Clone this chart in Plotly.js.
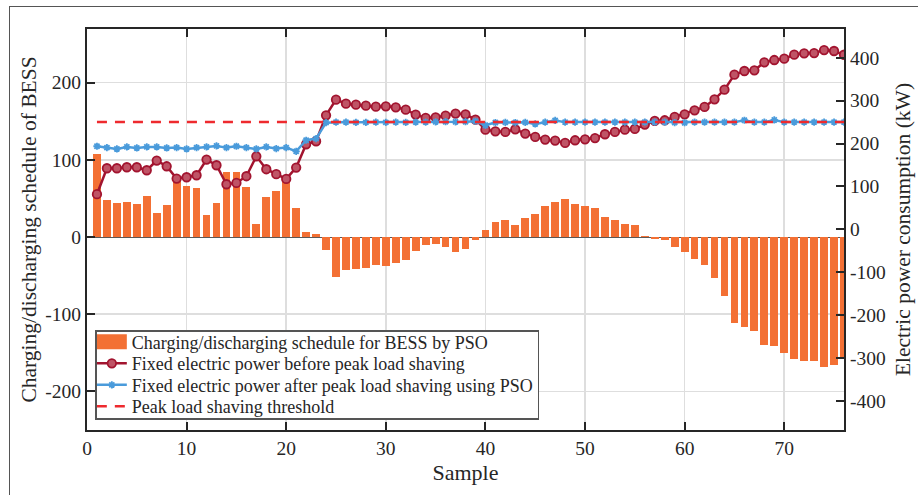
<!DOCTYPE html>
<html>
<head>
<meta charset="utf-8">
<script src="https://cdn.plot.ly/plotly-3.0.1.min.js"></script>
<style>
  html, body { margin: 0; padding: 0; background: #fff; overflow: hidden; }
  #wrap { position: relative; width: 918px; height: 495px; overflow: hidden; }
  #chart { position: absolute; left: 0; top: 0; width: 918px; height: 495px; }
  #frame { position: absolute; left: 9px; top: 6px; width: 1000px; height: 1000px;
           border: 1.3px solid #555; pointer-events: none; box-sizing: border-box; }
</style>
</head>
<body>
<div id="wrap">
  <div id="chart"></div>
  <div id="frame"></div>
</div>
<script>
// ---- data ----
const samples = [1,2,3,4,5,6,7,8,9,10,11,12,13,14,15,16,17,18,19,20,
  21,22,23,24,25,26,27,28,29,30,31,32,33,34,35,36,37,38,39,40,
  41,42,43,44,45,46,47,48,49,50,51,52,53,54,55,56,57,58,59,60,
  61,62,63,64,65,66,67,68,69,70,71,72,73,74,75,76];

// Charging/discharging schedule for BESS (left axis)
const bessSchedule = [108,47.5,44.5,45.8,43.2,52.6,31,41.9,74,65.6,
  63.9,29,43.6,83.7,83.7,65.2,17.3,51.4,59,74,
  37,7,4.4,-17,-51.7,-43,-41.8,-39.6,-35.7,-37.9,
  -34,-30,-18,-10.8,-9.5,-12.9,-19.4,-15.5,-3.4,8.6,
  19.4,21.6,15.1,24.6,29.8,39.7,44.9,48.8,42.3,40.1,
  37,25.9,22.5,17.3,16,1.7,-2.6,-3.5,-13.5,-19.4,
  -28,-35.8,-53,-75.9,-111,-116.8,-122,-139.7,-141.8,-150,
  -158.6,-161.2,-161.2,-168.2,-166,-158];

// Fixed electric power before peak load shaving (right axis, kW)
const powerBefore = [82,142.5,142.5,144.8,144.8,137.8,160.3,147.1,118.4,121.5,
  126.2,162.7,149.5,105.2,108.3,123.9,170.4,140.2,128.6,117.6,
  144.1,198.4,205.4,265.9,302.4,293,290.7,288.4,286.1,286.8,
  284.5,279.1,267.5,259.7,261.2,265.1,269.8,268.2,255.8,232.5,
  228.6,227.1,233.3,223.2,215.4,209.2,206.9,201.5,207.7,210,
  212.8,221.7,227.1,232.5,234.1,244.2,252.7,254.3,262,268.2,
  277.5,285.3,303.1,325.7,360.6,369.1,370.7,389.3,394.7,397.8,
  407.2,410.2,411,418,415.7,407];

// Fixed electric power after peak load shaving using PSO (right axis, kW)
const powerAfter = [193.7,190.6,187.5,192.2,189.8,192.2,192.2,189.8,190.6,187.5,
  190.6,192.2,194.5,190.6,193.7,190.6,187.5,192.2,188.3,190.6,
  182,207.7,211.6,248.8,250,250,249.5,249.5,250,249.5,
  250,249.5,250,250,250.5,251,250.5,251,252,242.6,
  249,249.5,249,249.5,245.7,250,254,250,250,250,
  250,250,250,250,250,250,250,250,249,248.5,
  250,250,250,250,250,254.3,250,250,255,250,
  250,250,250,250,250,250];

// Peak load shaving threshold (right axis, kW)
const thresholdX = [1, 76];
const thresholdY = [250, 250];

const xTicks = [0,10,20,30,40,50,60,70];
const leftTickVals = [-200,-100,0,100,200];
const leftTickText = ['-200','-100','0','100','200'];
const rightTickVals = [-400,-300,-200,-100,0,100,200,300,400];
const rightTickText = ['-400','-300','-200','-100','0','100','200','300','400'];

// ---- chart ----
const FONT = 'Liberation Serif, Times New Roman, serif';
const INK = '#262626';

const traces = [
  {
    type: 'bar', x: samples, y: bessSchedule, yaxis: 'y',
    name: 'Charging/discharging schedule for BESS by PSO',
    marker: { color: '#F37034', line: { width: 0 } },
    width: 0.78
  },
  {
    type: 'scatter', mode: 'lines+markers', x: samples, y: powerBefore, yaxis: 'y2',
    name: 'Fixed electric power before peak load shaving',
    line: { color: '#A2142F', width: 2.5 },
    marker: { symbol: 'circle', size: 8.5, color: '#bf5466', line: { color: '#A2142F', width: 1.8 } }
  },
  {
    type: 'scatter', mode: 'lines+markers', x: samples, y: powerAfter, yaxis: 'y2',
    name: 'Fixed electric power after peak load shaving using PSO',
    line: { color: '#4A9BDB', width: 2.5 },
    marker: { symbol: 'asterisk-open', size: 6, color: '#4A9BDB', line: { color: '#4A9BDB', width: 1.8 } }
  },
  {
    type: 'scatter', mode: 'lines', x: thresholdX, y: thresholdY, yaxis: 'y2',
    name: 'Peak load shaving threshold',
    line: { color: '#EE2A2E', width: 2.5, dash: '10px,8px' }
  }
];

const axisCommon = {
  ticks: 'inside', ticklen: 8, tickwidth: 2, tickcolor: INK,
  showline: true, linewidth: 2, linecolor: INK,
  tickfont: { family: FONT, size: 19.5, color: INK }
};

const layout = {
  width: 918, height: 495,
  margin: { l: 87, r: 74, t: 29, b: 65 },
  paper_bgcolor: 'rgba(0,0,0,0)', plot_bgcolor: '#fff',
  font: { family: FONT, color: INK },
  bargap: 0,
  showlegend: true,
  legend: {
    x: 0.011, y: 0.249, xanchor: 'left', yanchor: 'top',
    bgcolor: '#fff', bordercolor: '#555', borderwidth: 1.5,
    font: { family: FONT, size: 18, color: INK },
    traceorder: 'normal', tracegroupgap: 0, itemwidth: 30
  },
  xaxis: Object.assign({}, axisCommon, {
    range: [0, 76], tickvals: xTicks, mirror: 'ticks',
    showgrid: true, gridcolor: '#dedede', gridwidth: 1.5, zeroline: false,
    title: { text: 'Sample', font: { family: FONT, size: 22, color: INK }, standoff: 6 }
  }),
  yaxis: Object.assign({}, axisCommon, {
    range: [-250, 269.5], tickvals: leftTickVals, ticktext: leftTickText,
    showgrid: true, gridcolor: '#dedede', gridwidth: 1.5,
    zeroline: true, zerolinecolor: '#5a5a5a', zerolinewidth: 1,
    title: { text: 'Charging/discharging schedule of BESS', font: { family: FONT, size: 21.5, color: INK }, standoff: 3 }
  }),
  yaxis2: Object.assign({}, axisCommon, {
    overlaying: 'y', side: 'right',
    range: [-467.5, 467], tickvals: rightTickVals, ticktext: rightTickText,
    showgrid: false, zeroline: false,
    title: { text: 'Electric power consumption (kW)', font: { family: FONT, size: 21.5, color: INK }, standoff: 10 }
  })
};

Plotly.newPlot('chart', traces, layout, { displayModeBar: false, staticPlot: true }).then(function (gd) {
  // compact legend rows like the reference (MATLAB-style legend)
  const ROW = 21.5, LIFT = 8, BOXH = 88, SHIFTX = 5;
  const items = gd.querySelectorAll('.legend .traces');
  if (items.length < 2) return;
  const parse = el => {
    const m = /translate\(\s*([-\d.]+)[ ,]+([-\d.]+)/.exec(el.getAttribute('transform') || '');
    return m ? [parseFloat(m[1]), parseFloat(m[2])] : [0, 0];
  };
  const first = parse(items[0]);
  items.forEach((el, i) => {
    const p = parse(el);
    el.setAttribute('transform', 'translate(' + (p[0] - SHIFTX) + ',' + (first[1] - LIFT + i * ROW) + ')');
  });
  const bg = gd.querySelector('.legend rect.bg');
  if (bg) {
    bg.setAttribute('height', BOXH);
    const w = parseFloat(bg.getAttribute('width'));
    bg.setAttribute('width', w - SHIFTX);
  }
  const barSwatch = items[0].querySelector('.legendpoints path');
  if (barSwatch) barSwatch.setAttribute('d', 'M15,7.5H-15V-7.5H15Z');
});
</script>
</body>
</html>
